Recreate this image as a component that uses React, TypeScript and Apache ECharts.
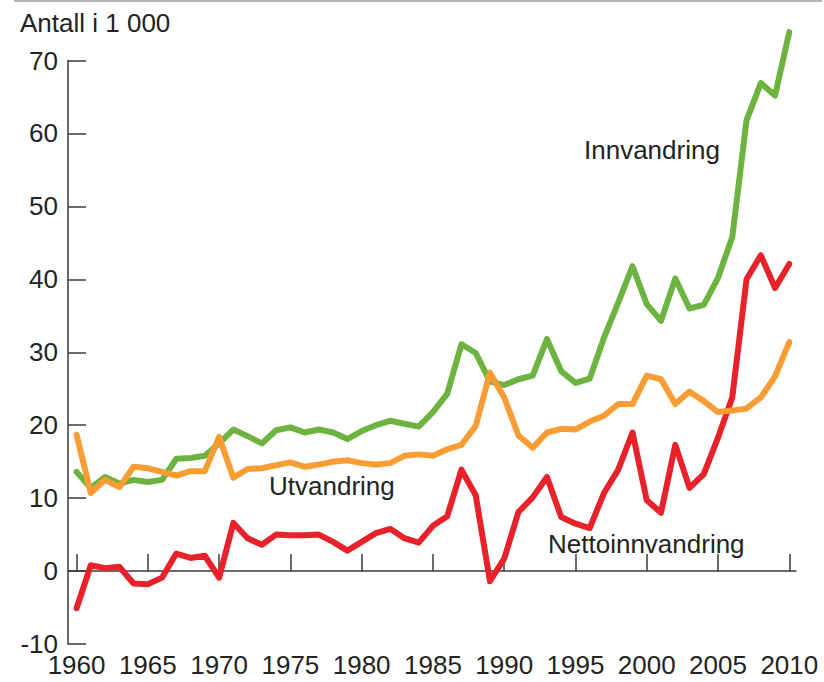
import React, { useEffect, useRef } from "react";
import * as echarts from "echarts";

const years: number[] = [];
for (let y = 1960; y <= 2010; y++) years.push(y);

const innvandring = [
  13.6, 11.4, 12.9, 12.0, 12.5, 12.2, 12.5, 15.4, 15.5, 15.8,
  17.5, 19.4, 18.5, 17.5, 19.3, 19.7, 19.0, 19.4, 19.0, 18.1,
  19.2, 20.0, 20.6, 20.2, 19.8, 21.8, 24.3, 31.1, 29.9, 26.0,
  25.5, 26.3, 26.8, 31.8, 27.4, 25.8, 26.4, 32.0, 36.8, 41.8,
  36.6, 34.3, 40.1, 36.0, 36.5, 40.2, 45.8, 61.8, 66.9, 65.2,
  73.9,
];

const utvandring = [
  18.7, 10.7, 12.5, 11.5, 14.3, 14.1, 13.6, 13.1, 13.7, 13.7,
  18.4, 12.8, 14.0, 14.1, 14.5, 14.9, 14.3, 14.6, 15.0, 15.2,
  14.8, 14.6, 14.8, 15.8, 16.0, 15.8, 16.7, 17.3, 19.9, 27.2,
  23.8, 18.6, 16.9, 19.0, 19.5, 19.4, 20.5, 21.3, 22.9, 22.9,
  26.8, 26.3, 22.9, 24.6, 23.3, 21.8, 22.0, 22.3, 23.8, 26.7,
  31.4,
];

const nettoinnvandring = [
  -5.1, 0.8, 0.4, 0.6, -1.7, -1.8, -0.9, 2.4, 1.8, 2.1,
  -0.9, 6.6, 4.5, 3.6, 5.0, 4.9, 4.9, 5.0, 4.0, 2.8,
  4.0, 5.2, 5.8, 4.5, 3.9, 6.2, 7.5, 13.9, 10.4, -1.4,
  1.7, 8.1, 10.1, 12.9, 7.4, 6.5, 5.9, 10.7, 13.9, 19.0,
  9.7, 8.0, 17.3, 11.4, 13.3, 18.3, 23.8, 40.0, 43.3, 38.8,
  42.1,
];

const xTicks = [1960, 1965, 1970, 1975, 1980, 1985, 1990, 1995, 2000, 2005, 2010];
const yTitle = "Antall i 1 000";
const seriesNames = ["Innvandring", "Utvandring", "Nettoinnvandring"];

const FONT = "'Liberation Sans', Arial, Helvetica, sans-serif";
const TEXT = "#232323";
const AXIS = "#3a3a3a";
const FS = 26;

export default function App() {
  const ref = useRef<HTMLDivElement>(null);
  useEffect(() => {
    if (!ref.current) return;
    const chart = echarts.init(ref.current, null, { renderer: "svg" });
    const pair = (vals: number[]) => years.map((y, i) => [y, vals[i]]);
    const lineSeries = (name: string, vals: number[], color: string) => ({
      name,
      type: "line",
      data: pair(vals),
      showSymbol: false,
      clip: false,
      lineStyle: { color, width: 6, cap: "round", join: "round" },
    });
    chart.setOption({
      animation: false,
      backgroundColor: "#ffffff",
      grid: { left: 68, right: 28, top: 60.5, bottom: 38, containLabel: false },
      xAxis: {
        type: "value",
        min: 1959.4,
        max: 2010.47,
        splitLine: { show: false },
        axisLine: { show: true, lineStyle: { color: AXIS, width: 1.5 } },
        axisTick: {
          show: true,
          inside: true,
          length: 17,
          customValues: xTicks,
          lineStyle: { color: AXIS, width: 1.5 },
        },
        axisLabel: {
          customValues: xTicks,
          fontSize: FS,
          fontFamily: FONT,
          color: TEXT,
          margin: 8,
          formatter: (v: number) => String(v),
        },
      },
      yAxis: {
        type: "value",
        min: -10,
        max: 70,
        interval: 10,
        splitLine: { show: false },
        axisLine: { show: true, lineStyle: { color: AXIS, width: 1.5 } },
        axisTick: { show: true, inside: true, length: 18, lineStyle: { color: AXIS, width: 1.5 } },
        axisLabel: { fontSize: FS, fontFamily: FONT, color: TEXT, margin: 10 },
      },
      series: [
        lineSeries(seriesNames[2], nettoinnvandring, "#e8222a"),
        lineSeries(seriesNames[0], innvandring, "#6cb33f"),
        lineSeries(seriesNames[1], utvandring, "#f89d34"),
      ],
      graphic: [
        {
          type: "line",
          shape: { x1: 14, y1: 1, x2: 822, y2: 1 },
          style: { stroke: "#b5b5b5", lineWidth: 2 },
        },
        {
          type: "text",
          x: 20,
          y: 23,
          style: { text: yTitle, font: `${FS}px ${FONT}`, fill: TEXT, textVerticalAlign: "middle" },
        },
        {
          type: "text",
          x: 584,
          y: 150,
          style: { text: seriesNames[0], font: `${FS}px ${FONT}`, fill: TEXT, textVerticalAlign: "middle" },
        },
        {
          type: "text",
          x: 269,
          y: 486,
          style: { text: seriesNames[1], font: `${FS}px ${FONT}`, fill: TEXT, textVerticalAlign: "middle" },
        },
        {
          type: "text",
          x: 548,
          y: 544,
          style: { text: seriesNames[2], font: `${FS}px ${FONT}`, fill: TEXT, textVerticalAlign: "middle" },
        },
      ],
    });
    return () => chart.dispose();
  }, []);
  return (
    <div
      ref={ref}
      style={{ position: "fixed", left: 0, top: 0, width: 824, height: 682, background: "#fff" }}
    />
  );
}
